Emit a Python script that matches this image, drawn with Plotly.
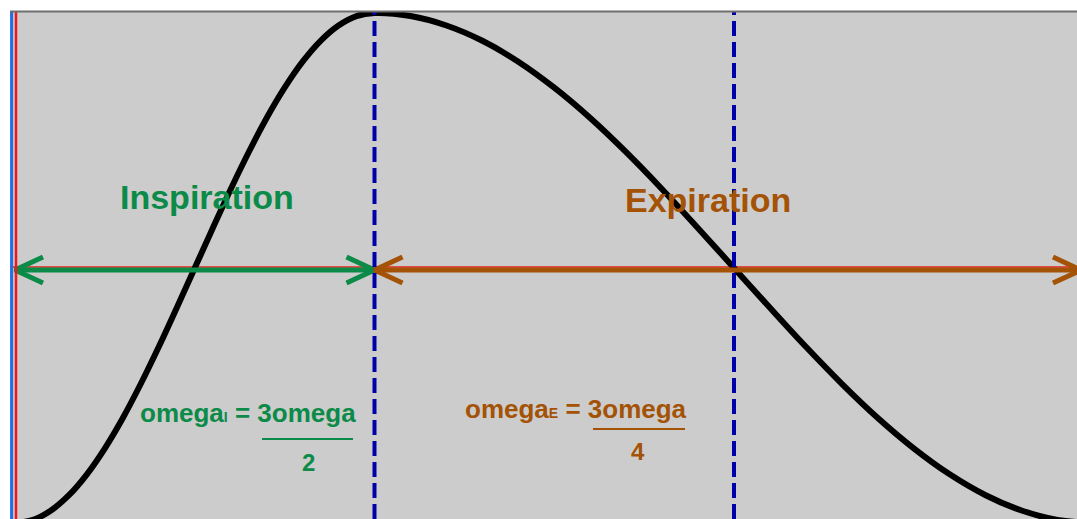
import plotly.graph_objects as go

# ---- data ----
# phase time (units of inspiration duration) and normalised flow value
insp_t = [0.0, 0.05, 0.1, 0.15, 0.2, 0.25, 0.3, 0.35, 0.4, 0.45, 0.5,
          0.55, 0.6, 0.65, 0.7, 0.75, 0.8, 0.85, 0.9, 0.95, 1.0]
insp_y = [-1.0, -0.988, -0.951, -0.891, -0.809, -0.707, -0.588, -0.454, -0.309, -0.156, 0.0,
          0.156, 0.309, 0.454, 0.588, 0.707, 0.809, 0.891, 0.951, 0.988, 1.0]
exp_t = [1.1, 1.2, 1.3, 1.4, 1.5, 1.6, 1.7, 1.8, 1.9, 2.0,
         2.1, 2.2, 2.3, 2.4, 2.5, 2.6, 2.7, 2.8, 2.9, 3.0]
exp_y = [0.988, 0.951, 0.891, 0.809, 0.707, 0.588, 0.454, 0.309, 0.156, 0.0,
         -0.156, -0.309, -0.454, -0.588, -0.707, -0.809, -0.891, -0.951, -0.988, -1.0]
boundaries = [0.0, 1.0, 2.0, 3.0]   # start, end of inspiration, mid expiration, end
labels = ["Inspiration", "Expiration"]

GREEN = "#0b8a48"
BROWN = "#a35206"
BLUE_DASH = "#0000a8"
FONT = "Arial, Liberation Sans, sans-serif"

# pixel geometry helpers (page pixels)
PX_PER_X = 359.5
PX_PER_Y = 255.0
x_range = [-5 / PX_PER_X, 1062 / PX_PER_X]
y_range = [-251 / PX_PER_Y, 256 / PX_PER_Y]

fig = go.Figure()

ya = -0.008
# red horizontal reference line
fig.add_shape(type="line", xref="paper", yref="y", x0=0, x1=1, y0=ya + 3 / PX_PER_Y, y1=ya + 3 / PX_PER_Y,
              line=dict(color="#e8201a", width=1.5), layer="below")

# curve
t_all = insp_t + exp_t
y_all = insp_y + exp_y
fig.add_trace(go.Scatter(x=t_all, y=y_all, mode="lines",
                         line=dict(color="black", width=6, shape="spline", smoothing=1.0),
                         hoverinfo="skip", cliponaxis=True))

# dashed vertical lines
for b in boundaries[1:3]:
    fig.add_shape(type="line", xref="x", yref="paper", x0=b, x1=b, y0=0, y1=1,
                  line=dict(color=BLUE_DASH, width=4, dash="15px,6px"))

# arrows
dx = 28 / PX_PER_X
dy = 13 / PX_PER_Y


def arrow(x0, x1, color):
    fig.add_trace(go.Scatter(x=[x0, x1], y=[ya, ya], mode="lines",
                             line=dict(color=color, width=5), hoverinfo="skip"))
    for tip, sgn in ((x0, 1), (x1, -1)):
        fig.add_trace(go.Scatter(x=[tip + sgn * dx, tip, tip + sgn * dx],
                                 y=[ya + dy, ya, ya - dy], mode="lines",
                                 line=dict(color=color, width=5), hoverinfo="skip"))


arrow(boundaries[0], boundaries[1], GREEN)
arrow(boundaries[1], x_range[1] + 4 / PX_PER_X, BROWN)


def px_x(p):
    return (p - 15) / PX_PER_X


def px_y(p):
    return (268 - p) / PX_PER_Y


SUB = "<span style='font-size:14px'>%s</span>"
ann = []
ann.append(dict(x=px_x(207), y=px_y(197), text="<b>" + labels[0] + "</b>",
                font=dict(family=FONT, size=34, color=GREEN)))
ann.append(dict(x=px_x(708), y=px_y(200), text="<b>" + labels[1] + "</b>",
                font=dict(family=FONT, size=34, color=BROWN)))
ann.append(dict(x=px_x(248), y=px_y(413), text="<b>omega" + SUB % "I" + " = 3omega</b>",
                font=dict(family=FONT, size=26, color=GREEN)))
ann.append(dict(x=px_x(308), y=px_y(462), text="<b>2</b>",
                font=dict(family=FONT, size=24, color=GREEN)))
ann.append(dict(x=px_x(576), y=px_y(409), text="<b>omega" + SUB % "E" + " = 3omega</b>",
                font=dict(family=FONT, size=26, color=BROWN)))
ann.append(dict(x=px_x(638), y=px_y(451), text="<b>4</b>",
                font=dict(family=FONT, size=24, color=BROWN)))
for a in ann:
    a.update(xref="x", yref="y", showarrow=False, xanchor="center", yanchor="middle")

# fraction bars
fig.add_shape(type="line", xref="x", yref="y", x0=px_x(262), x1=px_x(353), y0=px_y(439), y1=px_y(439),
              line=dict(color=GREEN, width=2))
fig.add_shape(type="line", xref="x", yref="y", x0=px_x(593), x1=px_x(685), y0=px_y(429), y1=px_y(429),
              line=dict(color=BROWN, width=2))

# left blue border, red axis, top border
fig.add_shape(type="line", xref="paper", yref="paper", x0=0.0015, x1=0.0015, y0=0, y1=1,
              line=dict(color="#1f6fe6", width=3))
fig.add_shape(type="line", xref="x", yref="paper", x0=0.0028, x1=0.0028, y0=0, y1=1,
              line=dict(color="#f01818", width=2.5))
fig.add_shape(type="line", xref="paper", yref="paper", x0=0, x1=1, y0=1.001, y1=1.001,
              line=dict(color="#6e6e6e", width=2))

fig.update_layout(
    width=1077, height=519,
    margin=dict(l=10, r=0, t=12, b=0),
    paper_bgcolor="white", plot_bgcolor="#cccccc",
    showlegend=False, annotations=ann,
    xaxis=dict(range=x_range, visible=False, showgrid=False, zeroline=False, fixedrange=True),
    yaxis=dict(range=y_range, visible=False, showgrid=False, zeroline=False, fixedrange=True),
)

fig.write_html("out.html", config={"displayModeBar": False},
               post_script="document.body.style.margin='0';document.body.style.overflow='hidden';")
